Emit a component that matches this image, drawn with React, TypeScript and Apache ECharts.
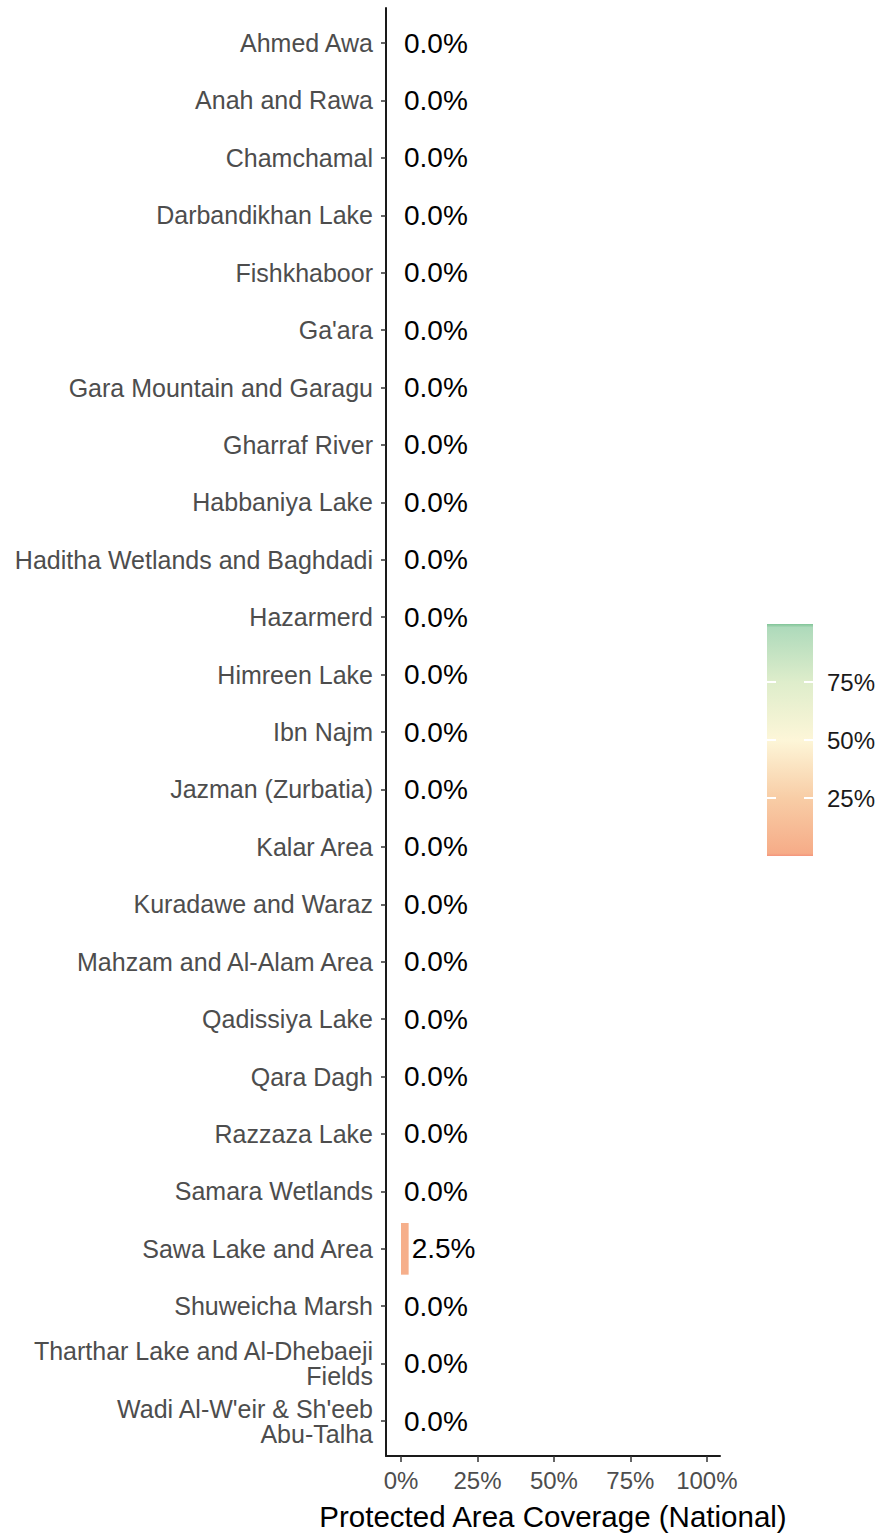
import React, { useEffect, useRef } from "react";
import * as echarts from "echarts";

const categories = [
  "Ahmed Awa",
  "Anah and Rawa",
  "Chamchamal",
  "Darbandikhan Lake",
  "Fishkhaboor",
  "Ga'ara",
  "Gara Mountain and Garagu",
  "Gharraf River",
  "Habbaniya Lake",
  "Haditha Wetlands and Baghdadi",
  "Hazarmerd",
  "Himreen Lake",
  "Ibn Najm",
  "Jazman (Zurbatia)",
  "Kalar Area",
  "Kuradawe and Waraz",
  "Mahzam and Al-Alam Area",
  "Qadissiya Lake",
  "Qara Dagh",
  "Razzaza Lake",
  "Samara Wetlands",
  "Sawa Lake and Area",
  "Shuweicha Marsh",
  "Tharthar Lake and Al-Dhebaeji\nFields",
  "Wadi Al-W'eir & Sh'eeb\nAbu-Talha",
];

const coverage = [
  0, 0, 0, 0, 0, 0, 0, 0, 0, 0, 0, 0, 0, 0, 0, 0, 0, 0, 0, 0, 0, 2.5, 0, 0, 0,
];

const xTicks = [0, 25, 50, 75, 100];
const legendTicks = [25, 50, 75];
const colorScale = ["#F6AC88", "#F8CDA6", "#FDF6D8", "#DEEDCB", "#AEDABB"];

const FONT = "'Liberation Sans', Arial, sans-serif";

export default function App() {
  const ref = useRef<HTMLDivElement>(null);

  useEffect(() => {
    document.body.style.margin = "0";
    if (!ref.current) return;
    const chart = echarts.init(ref.current, undefined, { renderer: "svg" });

    const xMin = -4.9;
    const xMax = 104.3;

    const option: any = {
      animation: false,
      backgroundColor: "#ffffff",
      textStyle: { fontFamily: FONT },
      grid: [
        {
          left: 386,
          width: 334,
          top: 14.3,
          height: 1435.5,
          outerBoundsMode: "none",
          containLabel: false,
        },
        {
          left: 386,
          width: 334,
          top: 8,
          height: 1448,
          outerBoundsMode: "none",
          containLabel: false,
        },
        {
          left: 767,
          width: 46,
          top: 624,
          height: 232,
          outerBoundsMode: "none",
          containLabel: false,
        },
      ],
      visualMap: {
        show: false,
        type: "continuous",
        seriesIndex: 0,
        dimension: 0,
        min: 0,
        max: 100,
        inRange: { color: colorScale },
      },
      xAxis: [
        {
          gridIndex: 0,
          type: "value",
          min: xMin,
          max: xMax,
          show: false,
        },
        {
          gridIndex: 1,
          type: "value",
          min: xMin,
          max: xMax,
          axisLine: {
            show: true,
            onZero: false,
            lineStyle: { color: "#1a1a1a", width: 2 },
          },
          axisTick: {
            show: true,
            length: 6,
            customValues: xTicks,
            lineStyle: { color: "#333333", width: 1.5 },
          },
          axisLabel: {
            show: true,
            customValues: xTicks,
            formatter: (v: number) => `${v}%`,
            color: "#4D4D4D",
            fontSize: 24,
            fontFamily: FONT,
            margin: 12,
          },
          splitLine: { show: false },
          name: "Protected Area Coverage (National)",
          nameLocation: "middle",
          nameGap: 45,
          nameTextStyle: { color: "#000000", fontSize: 29.5, fontFamily: FONT },
        },
        {
          gridIndex: 2,
          type: "category",
          data: ["bar"],
          show: false,
        },
      ],
      yAxis: [
        {
          gridIndex: 0,
          type: "category",
          inverse: true,
          data: categories,
          axisLine: { show: false, onZero: false },
          axisTick: {
            show: true,
            alignWithLabel: true,
            length: 5,
            lineStyle: { color: "#333333", width: 1.5 },
          },
          axisLabel: {
            color: "#4D4D4D",
            fontSize: 25,
            fontFamily: FONT,
            margin: 13,
            lineHeight: 25,
            align: "right",
          },
        },
        {
          gridIndex: 1,
          type: "value",
          min: 0,
          max: 1,
          axisLine: {
            show: true,
            onZero: false,
            lineStyle: { color: "#1a1a1a", width: 2 },
          },
          axisTick: { show: false },
          axisLabel: { show: false },
          splitLine: { show: false },
        },
        {
          gridIndex: 2,
          type: "value",
          min: 0,
          max: 100,
          position: "right",
          z: 10,
          axisLine: { show: false },
          axisTick: {
            show: true,
            inside: true,
            length: 9,
            customValues: legendTicks,
            lineStyle: { color: "#ffffff", width: 2 },
          },
          axisLabel: {
            show: true,
            customValues: legendTicks,
            formatter: (v: number) => `${v}%`,
            color: "#1A1A1A",
            fontSize: 24,
            fontFamily: FONT,
            margin: 14,
          },
          splitLine: { show: false },
        },
        {
          gridIndex: 2,
          type: "value",
          min: 0,
          max: 100,
          position: "left",
          z: 10,
          axisLine: { show: false },
          axisTick: {
            show: true,
            inside: true,
            length: 9,
            customValues: legendTicks,
            lineStyle: { color: "#ffffff", width: 2 },
          },
          axisLabel: { show: false },
          splitLine: { show: false },
        },
      ],
      series: [
        {
          type: "bar",
          xAxisIndex: 0,
          yAxisIndex: 0,
          barCategoryGap: "10%",
          data: categories.map((c, i) => [coverage[i], c]),
          label: {
            show: true,
            position: "right",
            distance: 3,
            color: "#000000",
            fontSize: 28,
            fontFamily: FONT,
            formatter: (p: any) => `${p.value[0].toFixed(1)}%`,
          },
        },
        {
          type: "bar",
          xAxisIndex: 2,
          yAxisIndex: 2,
          barWidth: "100%",
          silent: true,
          data: [100],
          itemStyle: {
            color: {
              type: "linear",
              x: 0,
              y: 1,
              x2: 0,
              y2: 0,
              colorStops: [
                { offset: 0, color: "#F4957C" },
                { offset: 0.012, color: colorScale[0] },
                { offset: 0.25, color: colorScale[1] },
                { offset: 0.5, color: colorScale[2] },
                { offset: 0.75, color: colorScale[3] },
                { offset: 0.985, color: colorScale[4] },
                { offset: 1, color: "#80C497" },
              ],
            },
          },
        },
      ],
    };

    chart.setOption(option);
    return () => chart.dispose();
  }, []);

  return <div ref={ref} style={{ width: 881, height: 1534 }} />;
}
